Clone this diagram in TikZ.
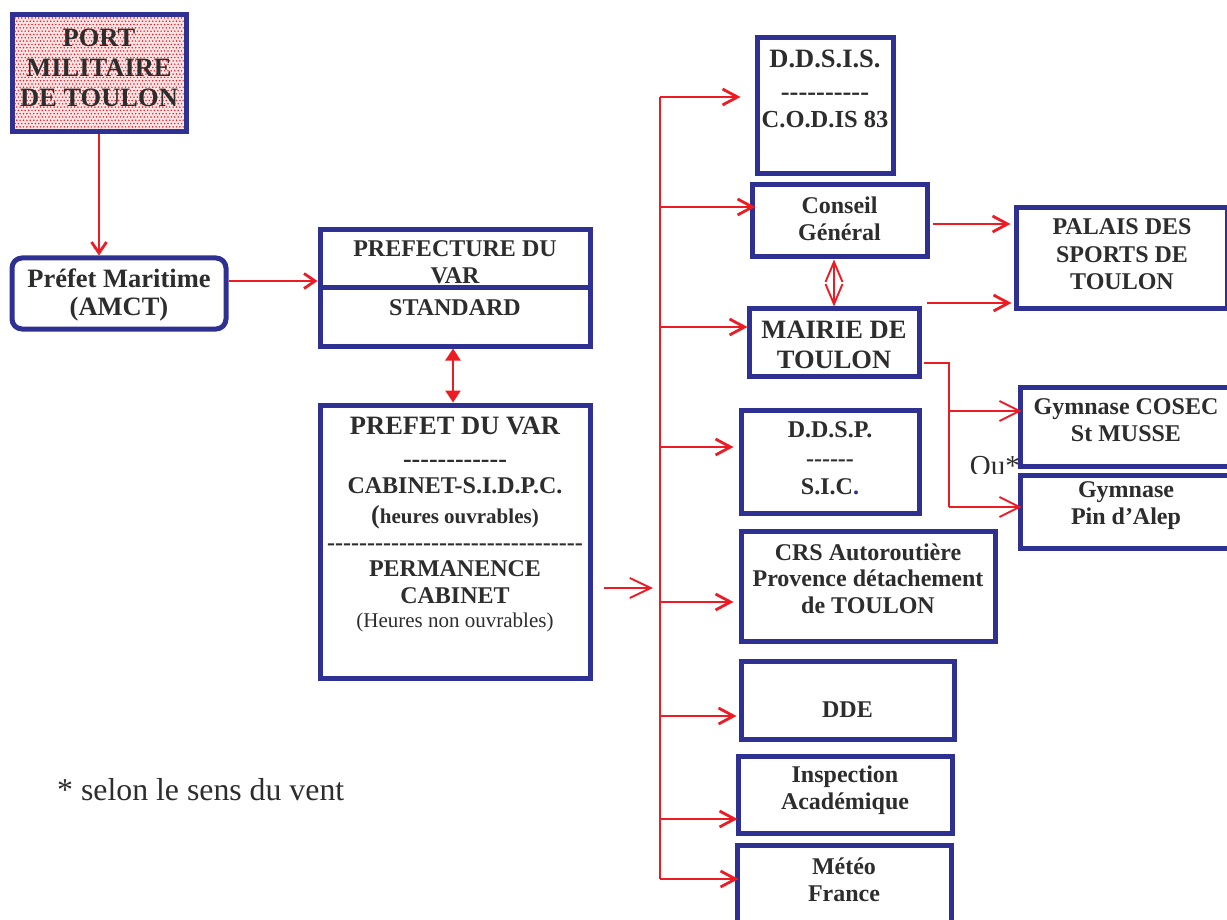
\documentclass[tikz,border=0pt]{standalone}
\usepackage{fontspec}
\setmainfont{Liberation Serif}
\usetikzlibrary{arrows.meta,fit,calc}
\definecolor{navy}{RGB}{46,49,146}
\definecolor{lred}{RGB}{237,28,36}
\definecolor{ink}{RGB}{45,45,45}
\newcommand\fsz[2]{\fontsize{#1}{#2}\selectfont}
\newcount\hycnt
\newcommand\hyph[1]{\hycnt=0\relax\loop\ifnum\hycnt<#1\relax-\kern0pt\advance\hycnt by 1\relax\repeat}
\tikzset{
  box/.style={draw=navy, line width=5pt, fill=white, inner sep=0pt, rectangle},
  portbox/.style={draw=navy, line width=5pt, fill=red!10, inner sep=0pt, rectangle},
  dot/.style={fill=lred},
  txt/.style={text=ink, font=\bfseries\fsz{24}{27}, align=center, inner sep=0pt},
  rtxt/.style={text=ink, align=center, inner sep=0pt},
  redline/.style={draw=lred, line width=2.8pt},
  thinred/.style={draw=lred, line width=1.9pt},
  arr/.style={redline, -{Straight Barb[length=15pt,width=16pt]}},
  arrS/.style={redline, -{Straight Barb[length=11pt,width=15pt]}},
  arrL/.style={thinred, -{Straight Barb[length=21pt,width=20pt]}},
  arrT/.style={thinred, -{Straight Barb[length=20pt,width=20pt]}},
  dblopen/.style={thinred, {Straight Barb[length=20pt,width=17pt]}-{Straight Barb[length=20pt,width=17pt]}},
  dblfill/.style={redline, {Triangle[length=12pt,width=15pt]}-{Triangle[length=12pt,width=15pt]}},
  divider/.style={draw=navy, line width=5pt},
}
\begin{document}
\begin{tikzpicture}[x=1pt,y=-1pt]
\useasboundingbox (0,0) rectangle (1227,920);
\clip (0,0) rectangle (1227,920);

% ---------- boxes ----------
\node[portbox, fit={(12,15)(186,132)}] (port) {};
\begin{scope}
  \clip (14.5,17.5) rectangle (183.5,129.5);
  \foreach \r in {0,...,34} {
    \foreach \c in {0,...,50} {
      \fill[dot] ({15+\c*3.4+mod(\r,2)*1.7},{18+\r*3.3}) circle (0.85pt);
    }
  }
\end{scope}
\node[box, rounded corners=10pt, fit={(12,258)(226,329)}] (pm) {};
\node[box, fit={(320,230)(590,346)}] (pref) {};
\node[box, fit={(320,405)(590,678)}] (pvar) {};
\node[box, fit={(757,38)(893,174)}] (ddsis) {};
\node[box, fit={(752,185)(927,257)}] (cg) {};
\node[box, fit={(1016,208)(1227,309)}] (palais) {};
\node[box, fit={(749,309)(919,376)}] (mairie) {};
\node[box, fit={(1020,387)(1232,466)}] (cosec) {};
\node[box, fit={(741,410)(919,513)}] (ddsp) {};
\node[box, fit={(741,531)(995,641)}] (crs) {};
\node[box, fit={(741,661)(954,739)}] (dde) {};
\node[box, fit={(738,756)(952,833)}] (insp) {};
\node[box, fit={(737,845)(951,935)}] (meteo) {};

% "Ou*" partly hidden under the next box
\begin{scope}
  \clip (900,440) rectangle (1019,473);
  \node[rtxt, anchor=base east, font=\fsz{29}{29}] (ou) at (1020,475) {Ou*};
\end{scope}
\node[box, fit={(1020,475)(1232,548)}] (pin) {};

\draw[divider] (pref.west) -- (pref.east);

% ---------- texts ----------
\node[txt, font=\bfseries\fsz{26.5}{30}] (portT) at (99,68) {PORT\\MILITAIRE\\DE TOULON};
\node[txt, font=\bfseries\fsz{26.5}{28}] (pmT) at (119,295) {Préfet Maritime\\(AMCT)};
\node[txt] (prefT1) at (455,262) {PREFECTURE DU\\VAR};
\node[txt] (prefT2) at (455,308) {STANDARD};

\node[txt, font=\bfseries\fsz{26.5}{30}] (pv1) at (455,426) {PREFET DU VAR};
\node[txt, font=\bfseries\fsz{26}{30}] (pv2) at (455,464) {\hyph{12}};
\node[txt] (pv3) at (455,486) {CABINET-S.I.D.P.C.};
\node[txt, font=\bfseries\fsz{21}{24}] (pv4) at (455,517) {{\fsz{26}{26}(}heures ouvrables)};
\node[txt] (pv5) at (455,547) {\hyph{32}};
\node[txt] (pv6) at (455,582.5) {PERMANENCE\\CABINET};
\node[rtxt, font=\fsz{21}{24}] (pv7) at (455,622) {(Heures non ouvrables)};

\node[txt, font=\bfseries\fsz{26.5}{30}] (dd1) at (825,59) {D.D.S.I.S.};
\node[txt, font=\bfseries\fsz{26.5}{30}] (dd2) at (825,97) {\hyph{10}};
\node[txt, font=\bfseries\fsz{24.5}{28}] (dd3) at (825,120) {C.O.D.IS 83};

\node[txt] (cgT) at (839.5,218.5) {Conseil\\Général};
\node[txt, font=\bfseries\fsz{24}{27.5}] (palT) at (1122,254.5) {PALAIS DES\\SPORTS DE\\TOULON};
\node[txt, font=\bfseries\fsz{26.5}{30}] (mT) at (834,345) {MAIRIE DE\\TOULON};
\node[txt, font=\bfseries\fsz{24}{26.5}] (csT) at (1126,420) {Gymnase COSEC\\St MUSSE};
\node[txt, font=\bfseries\fsz{24}{26.5}] (pinT) at (1126,505.5) {Gymnase\\Pin d’Alep};
\node[txt, font=\bfseries\fsz{24}{28.5}] (dspT) at (830,458.5) {D.D.S.P.\\\hyph{6}\\S.I.C\textcolor{navy}{.}};
\node[txt, font=\bfseries\fsz{24}{26.5}] (crsT) at (868,578.5) {CRS Autoroutière\\Provence détachement\\de TOULON};
\node[txt] (ddeT) at (847.5,710) {DDE};
\node[txt] (inT) at (845,790.5) {Inspection\\Académique};
\node[txt] (meT) at (844,879.5) {Météo\\France};

\node[rtxt, anchor=base west, font=\fsz{31.8}{32}] (note) at (57,800) {* selon le sens du vent};

% ---------- connectors ----------
\draw[arrS] (port.south) -- (port.south |- pm.north);
\draw[arrS] ([yshift=12.5pt]pm.east) -- ([yshift=12.5pt]pm.east -| pref.west);
\draw[dblfill] ([xshift=-2pt]pref.south) -- ([xshift=-2pt]pvar.north);

\coordinate (busTop) at (660,97);
\coordinate (b2) at (660,207);
\coordinate (b3) at (660,327);
\coordinate (b4) at (660,447);
\coordinate (b5) at (660,602);
\coordinate (b6) at (660,716);
\coordinate (b7) at (660,819);
\coordinate (busBot) at (660,879);
\draw[redline] (busTop) -- (busBot);

\draw[arrL] ([shift={(11pt,-46.5pt)}]pvar.east) -- ([shift={(-7pt,-46.5pt)}]pvar.east -| busTop);

\draw[arr] (busTop) -- ([xshift=-14pt]busTop -| ddsis.west);
\draw[arr] (b2) -- ([xshift=6pt]b2 -| cg.west);
\draw[arr] (b3) -- ([xshift=1pt]b3 -| mairie.west);
\draw[arr] (b4) -- ([xshift=-5pt]b4 -| ddsp.west);
\draw[arr] (b5) -- ([xshift=-5pt]b5 -| crs.west);
\draw[arr] (b6) -- ([xshift=-2pt]b6 -| dde.west);
\draw[arr] (b7) -- ([xshift=2pt]b7 -| insp.west);
\draw[arr] (busBot) -- ([xshift=4pt]busBot -| meteo.west);

\draw[arr] ([shift={(3pt,-3pt)}]cg.east) -- ([shift={(-3pt,-3pt)}]cg.east -| palais.west);
\coordinate (p2) at (927,303);
\draw[arr] (p2) -- ([xshift=-2pt]p2 -| palais.west);

\draw[dblopen] (cg.south -| mairie.north) -- (mairie.north);

\coordinate (gj1) at (949,411);
\coordinate (gj2) at (949,507);
\draw[thinred] ([shift={(2pt,-20.5pt)}]mairie.east) -| (gj2);
\draw[arrT] (gj1) -- ([xshift=4pt]gj1 -| cosec.west);
\draw[arrT] (gj2) -- ([xshift=4pt]gj2 -| pin.west);
\end{tikzpicture}
\end{document}
